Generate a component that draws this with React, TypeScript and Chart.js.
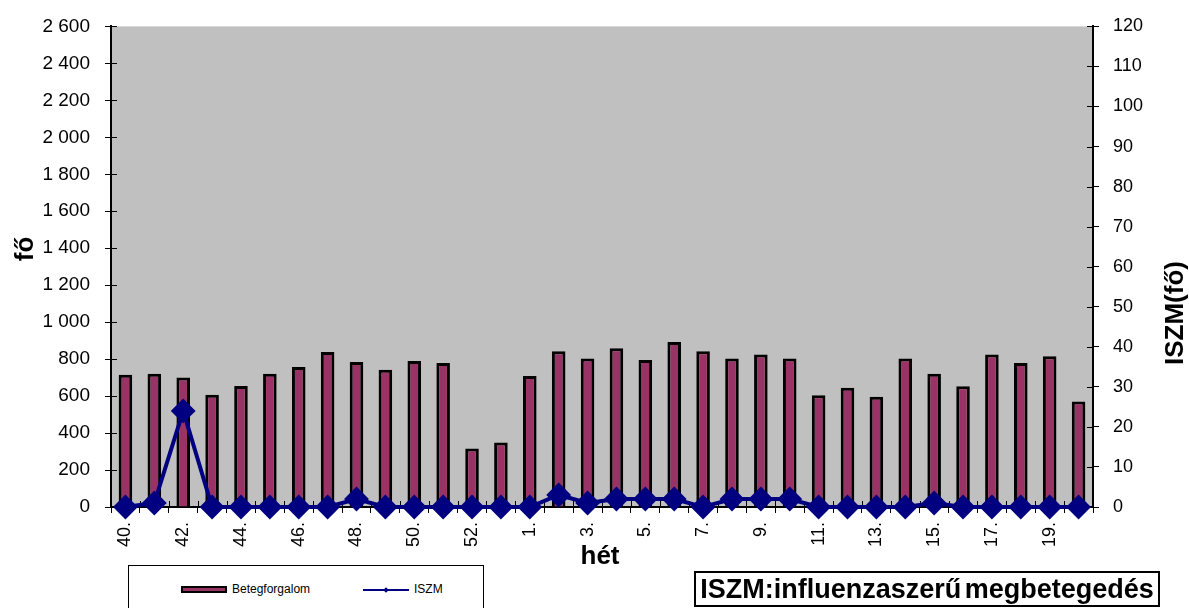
import React, { useEffect, useRef } from 'react';
import { Chart, registerables } from 'chart.js';

Chart.register(...registerables);

// Week labels (40. .. 53., 1. .. 20.)
const weeks: string[] = [
  '40.', '41.', '42.', '43.', '44.', '45.', '46.', '47.', '48.', '49.', '50.', '51.', '52.', '53.',
  '1.', '2.', '3.', '4.', '5.', '6.', '7.', '8.', '9.', '10.', '11.', '12.', '13.', '14.', '15.',
  '16.', '17.', '18.', '19.', '20.',
];

// Betegforgalom (left axis, fő)
const betegforgalom: number[] = [
  715, 721, 700, 607, 655, 721, 757, 838, 784, 743, 790, 779, 317, 349,
  709, 843, 804, 859, 795, 893, 843, 804, 825, 804, 605, 645, 596, 804, 721,
  653, 825, 779, 816, 571,
];

// ISZM (right axis, fő)
const iszm: number[] = [
  0, 1, 24, 0, 0, 0, 0, 0, 2, 0, 0, 0, 0, 0,
  0, 3, 1, 2, 2, 2, 0, 2, 2, 2, 0, 0, 0, 0, 1,
  0, 0, 0, 0, 0,
];

const leftTicksMax = 2600;
const leftStep = 200;
const rightTicksMax = 120;
const rightStep = 10;

const FONT = '"Liberation Sans", Arial, sans-serif';

function fmtThousands(v: number): string {
  if (v >= 1000) {
    return `${Math.floor(v / 1000)} ${String(v % 1000).padStart(3, '0')}`;
  }
  return String(v);
}

const decorPlugin = {
  id: 'decor',
  beforeDraw(chart: any) {
    const { ctx, chartArea } = chart;
    ctx.save();
    ctx.fillStyle = '#ffffff';
    ctx.fillRect(0, 0, chart.width, chart.height);
    ctx.fillStyle = '#c0c0c0';
    ctx.fillRect(chartArea.left, chartArea.top, chartArea.right - chartArea.left, chartArea.bottom - chartArea.top);
    ctx.restore();
  },
  beforeDatasetsDraw(chart: any) {
    const { ctx, chartArea, scales } = chart;
    ctx.save();
    ctx.strokeStyle = '#000';
    ctx.lineWidth = 1;
    const y = scales.y;
    y.ticks.forEach((_t: any, i: number) => {
      const p = Math.round(y.getPixelForTick(i)) + 0.5;
      ctx.beginPath();
      ctx.moveTo(chartArea.left, p);
      ctx.lineTo(chartArea.left + 6, p);
      ctx.stroke();
    });
    const y1 = scales.y1;
    y1.ticks.forEach((_t: any, i: number) => {
      const p = Math.round(y1.getPixelForTick(i)) + 0.5;
      ctx.beginPath();
      ctx.moveTo(chartArea.right - 6, p);
      ctx.lineTo(chartArea.right, p);
      ctx.stroke();
    });
    const n = weeks.length;
    const w = (chartArea.right - chartArea.left) / n;
    for (let i = 0; i <= n; i++) {
      const p = Math.round(chartArea.left + i * w) + 0.5;
      ctx.beginPath();
      ctx.moveTo(p, chartArea.bottom - 6);
      ctx.lineTo(p, chartArea.bottom);
      ctx.stroke();
    }
    ctx.restore();
  },
  afterDraw(chart: any) {
    const { ctx, chartArea } = chart;
    ctx.save();
    ctx.fillStyle = '#000';
    ctx.font = `bold 26px ${FONT}`;
    ctx.textAlign = 'center';
    ctx.textBaseline = 'alphabetic';
    ctx.fillText('hét', (chartArea.left + chartArea.right) / 2 - 2, 564);

    ctx.save();
    ctx.translate(33, 249);
    ctx.rotate(-Math.PI / 2);
    ctx.fillText('fő', 0, 0);
    ctx.restore();

    ctx.save();
    ctx.translate(1183, 313);
    ctx.rotate(-Math.PI / 2);
    ctx.fillText('ISZM(fő)', 0, 0);
    ctx.restore();

    ctx.restore();
  },
};

export default function App() {
  const ref = useRef<HTMLCanvasElement>(null);

  useEffect(() => {
    const canvas = ref.current;
    if (!canvas) return;
    const tickFont = { family: FONT, size: 18 };
    const chart = new Chart(canvas, {
      type: 'bar',
      data: {
        labels: weeks,
        datasets: [
          {
            type: 'line',
            label: 'ISZM',
            data: iszm,
            yAxisID: 'y1',
            clip: false,
            borderColor: '#000080',
            backgroundColor: '#000080',
            borderWidth: 4,
            pointStyle: 'rectRot',
            pointRadius: 11,
            pointBorderWidth: 2,
            pointBackgroundColor: '#000080',
            pointBorderColor: '#000080',
            tension: 0,
            order: 1,
          } as any,
          {
            type: 'bar',
            label: 'Betegforgalom',
            data: betegforgalom,
            yAxisID: 'y',
            backgroundColor: '#993366',
            borderColor: '#000000',
            borderWidth: 3,
            barPercentage: 0.47,
            categoryPercentage: 1,
            order: 2,
          } as any,
        ],
      },
      options: {
        responsive: false,
        animation: false,
        devicePixelRatio: 1,
        layout: { padding: { top: 23, left: 0, right: 0, bottom: 0 } },
        plugins: {
          legend: { display: false },
          tooltip: { enabled: false },
        },
        scales: {
          x: {
            type: 'category',
            offset: true,
            grid: { offset: true, drawOnChartArea: false, color: '#000', tickLength: 6, lineWidth: 1 },
            border: { color: '#000', width: 2 },
            ticks: {
              autoSkip: false,
              minRotation: 90,
              maxRotation: 90,
              padding: 9,
              color: '#000',
              font: tickFont,
              callback: (_v: any, i: number) => (i % 2 === 0 ? weeks[i] : ''),
            },
            afterFit: (s: any) => { s.height = 101; },
          },
          y: {
            position: 'left',
            min: 0,
            max: leftTicksMax,
            grid: { drawOnChartArea: false, color: '#000', tickLength: 6, lineWidth: 1 },
            border: { color: '#000', width: 2 },
            ticks: {
              stepSize: leftStep,
              padding: 15,
              color: '#000',
              font: { family: FONT, size: 19 },
              callback: (v: any) => fmtThousands(Number(v)),
            },
            afterFit: (s: any) => { s.width = 111; },
          },
          y1: {
            position: 'right',
            min: 0,
            max: rightTicksMax,
            grid: { drawOnChartArea: false, color: '#000', tickLength: 6, lineWidth: 1 },
            border: { color: '#000', width: 2 },
            ticks: {
              stepSize: rightStep,
              padding: 14,
              color: '#000',
              font: tickFont,
            },
            afterFit: (s: any) => { s.width = 96; },
          },
        },
      } as any,
      plugins: [decorPlugin],
    });
    return () => chart.destroy();
  }, []);

  return (
    <div
      style={{
        position: 'absolute',
        left: 0,
        top: 0,
        width: 1189,
        height: 608,
        background: '#fff',
        overflow: 'hidden',
        fontFamily: FONT,
      }}
    >
      <canvas ref={ref} width={1189} height={608} style={{ display: 'block', width: 1189, height: 608 }} />
      <div
        style={{
          position: 'absolute',
          left: 128,
          top: 565,
          width: 356,
          height: 60,
          border: '1px solid #000',
          boxSizing: 'border-box',
          background: '#fff',
        }}
      >
        <div
          style={{
            position: 'absolute',
            left: 52,
            top: 20,
            width: 46,
            height: 7,
            background: '#993366',
            border: '2px solid #000',
            boxSizing: 'border-box',
          }}
        />
        <div style={{ position: 'absolute', left: 103, top: 16, fontSize: 12, lineHeight: '14px', color: '#000' }}>
          Betegforgalom
        </div>
        <div style={{ position: 'absolute', left: 234, top: 23, width: 46, height: 2, background: '#000080' }} />
        <div
          style={{
            position: 'absolute',
            left: 255,
            top: 22,
            width: 4,
            height: 4,
            background: '#000080',
            transform: 'rotate(45deg)',
          }}
        />
        <div style={{ position: 'absolute', left: 285, top: 16, fontSize: 12, lineHeight: '14px', color: '#000' }}>
          ISZM
        </div>
      </div>
      <div
        style={{
          position: 'absolute',
          left: 694,
          top: 571,
          width: 466,
          height: 36,
          border: '2px solid #000',
          boxSizing: 'border-box',
          fontWeight: 'bold',
          fontSize: 27,
          lineHeight: '32px',
          wordSpacing: -4,
          textAlign: 'center',
          whiteSpace: 'nowrap',
          color: '#000',
        }}
      >
        ISZM:influenzaszerű megbetegedés
      </div>
    </div>
  );
}
